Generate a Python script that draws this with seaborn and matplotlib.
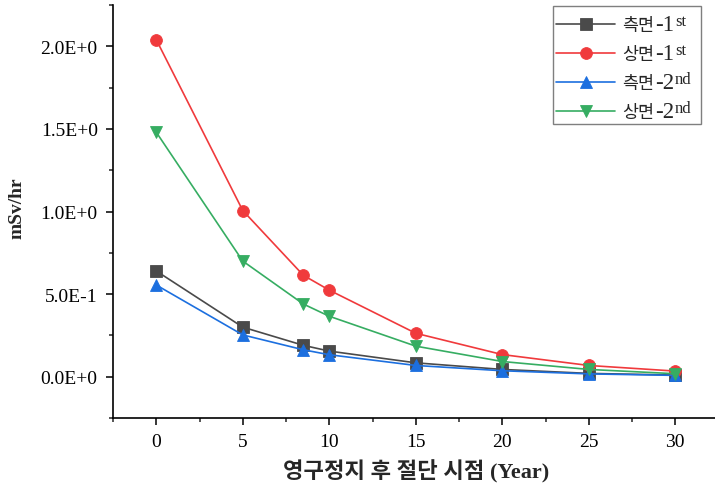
import matplotlib
matplotlib.use("Agg")
import matplotlib.pyplot as plt
import matplotlib.ticker as mticker
from matplotlib.patches import Rectangle
import seaborn as sns
import pandas as pd

# ---- data ----
years = [0, 5, 8.5, 10, 15, 20, 25, 30]
side_1st = [0.64, 0.30, 0.19, 0.155, 0.084, 0.044, 0.020, 0.010]
top_1st = [2.04, 1.006, 0.614, 0.524, 0.263, 0.134, 0.068, 0.034]
side_2nd = [0.555, 0.253, 0.163, 0.133, 0.068, 0.036, 0.017, 0.008]
top_2nd = [1.48, 0.70, 0.44, 0.366, 0.185, 0.092, 0.044, 0.018]

series_names = ["측면", "상면", "측면", "상면"]
series_nums = ["-1", "-1", "-2", "-2"]
series_sup = ["st", "st", "nd", "nd"]
series_values = [side_1st, top_1st, side_2nd, top_2nd]
series_colors = ["#4a4a4a", "#f03a3c", "#1c6fdf", "#36ad62"]
series_markers = ["s", "o", "^", "v"]

y_ticks = [0.0, 0.5, 1.0, 1.5, 2.0]
y_ticklabels = ["0.0E+0", "5.0E-1", "1.0E+0", "1.5E+0", "2.0E+0"]
x_ticks = [0, 5, 10, 15, 20, 25, 30]

x_label = "영구정지 후 절단 시점 (Year)"
y_label = "mSv/hr"

sns.set_style("ticks")
SERIF = ["Liberation Serif", "Noto Sans CJK KR", "DejaVu Sans"]
CJK = ["Noto Sans CJK KR", "Liberation Serif", "DejaVu Sans"]
plt.rcParams["font.family"] = SERIF

W, H = 715, 489
fig = plt.figure(figsize=(W / 100, H / 100), dpi=100)
ax = fig.add_axes([113 / W, 70 / H, (718.5 - 113) / W, (419 - 6) / H])

for i, (name, vals, col, mk) in enumerate(zip(series_names, series_values, series_colors, series_markers)):
    df = pd.DataFrame({"year": years, "dose": vals})
    sns.lineplot(data=df, x="year", y="dose", ax=ax, color=col, marker=mk,
                 markersize=8.5, markeredgewidth=0.6, markeredgecolor=col,
                 linewidth=1.2, label=name)

ax.set_xlim(-2.5, 32.5)
ax.set_ylim(-0.25, 2.25)
ax.set_xticks(x_ticks)
ax.set_xticklabels([str(v) for v in x_ticks])
ax.set_yticks(y_ticks)
ax.set_yticklabels(y_ticklabels)
ax.xaxis.set_minor_locator(mticker.MultipleLocator(2.5))
ax.yaxis.set_minor_locator(mticker.MultipleLocator(0.25))
ax.tick_params(which="major", direction="out", length=5, width=1.1, labelsize=14,
               colors="black", pad=6)
ax.tick_params(which="minor", direction="out", length=3, width=1.1)
for lab in ax.get_xticklabels() + ax.get_yticklabels():
    lab.set_family(SERIF)

for s in ["top", "right"]:
    ax.spines[s].set_visible(False)
for s in ["left", "bottom"]:
    ax.spines[s].set_linewidth(1.2)
    ax.spines[s].set_color("black")

ax.set_xlabel(x_label, fontsize=16, fontweight="bold", family=SERIF)
ax.xaxis.set_label_coords((416 - 113) / (718.5 - 113), -(472 - 419) / 413)
ax.xaxis.label.set_va("center")
ax.set_ylabel(y_label, fontsize=14, fontweight="bold", family=SERIF)
ax.yaxis.set_label_coords((17 - 113) / (718.5 - 113), (419 - 208) / 413)
ax.yaxis.label.set_va("center")

# legend (frame drawn separately so that the superscripts sit inside it)
LFS = 12.5
leg = ax.legend(loc="upper left", bbox_to_anchor=(553 / W, 1 - 14 / H),
                bbox_transform=fig.transFigure, borderaxespad=0, frameon=False,
                fontsize=LFS, handlelength=3.35, handletextpad=0.45,
                labelspacing=0.62, borderpad=0.2)
for t in leg.get_texts():
    t.set_family(CJK)
leg.set_zorder(6)

frame = Rectangle((553 / W, 1 - 125 / H), (701 - 553) / W, (125 - 7) / H,
                  transform=fig.transFigure, fill=True, facecolor="white",
                  edgecolor="#7f7f7f", linewidth=1.0, zorder=5, clip_on=False)
ax.add_patch(frame)

fig.canvas.draw()
renderer = fig.canvas.get_renderer()
inv = fig.transFigure.inverted()
for t, num, sup in zip(leg.get_texts(), series_nums, series_sup):
    bb = t.get_window_extent(renderer)
    base_y = t.get_transform().transform(t.get_position())[1]
    x0, y0 = inv.transform((bb.x1 + 1, base_y))
    tn = fig.text(x0, y0, num, fontsize=16.5, family=SERIF, va="baseline", ha="left", zorder=6)
    fig.canvas.draw()
    bn = tn.get_window_extent(renderer)
    x1, y1 = inv.transform((bn.x1 + 0.5, bn.y1 + 1))
    fig.text(x1, y1, sup, fontsize=12, family=SERIF, va="top", ha="left", zorder=6)

fig.savefig("out.png", dpi=100)
